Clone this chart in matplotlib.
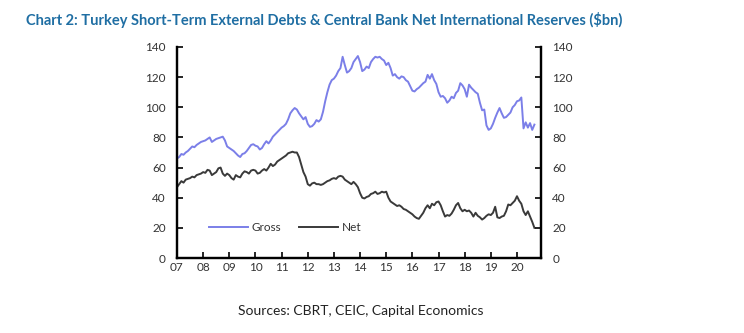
import matplotlib
matplotlib.use('Agg')
import numpy as np
import matplotlib.pyplot as plt

# monthly data, Jan 2007 - Sep 2020 ($bn)
start_year = 2007
gross = [
    66, 67, 69, 68.5, 70, 71, 72.5, 74, 73.5, 75, 76, 77,                   # 2007
    77.5, 78, 79, 80, 77, 78, 79, 79.5, 80, 80.5, 78, 74,                   # 2008
    73, 72, 71, 69.5, 68, 67, 69, 69.5, 71, 73, 75, 75.5,                   # 2009
    74.5, 74, 72, 73, 75.5, 77.5, 76, 78, 80.5, 82, 83.5, 85,               # 2010
    86.5, 87.5, 89, 92, 96, 98, 99.5, 98.5, 96, 94, 92, 93.5,               # 2011
    89, 87, 87.5, 89, 91.5, 90.5, 92, 97, 104, 110, 115, 118,               # 2012
    119, 121, 124, 126, 133.5, 128, 123, 124, 126, 130, 132, 134,           # 2013
    130, 124, 125, 127, 126, 130, 132, 133.5, 133, 133.5, 132, 131,         # 2014
    128, 129.5, 126, 121, 122, 120, 119, 120.5, 120, 118, 117, 114,         # 2015
    111, 110.5, 112, 113, 114.5, 116, 117, 121.5, 119, 122, 118, 115.5,     # 2016
    110, 107, 107.5, 106, 103, 104.5, 107, 106, 109.5, 111, 116, 114.5,     # 2017
    112, 107, 115, 113, 111.5, 110, 109, 103, 98, 98.5, 88, 85,             # 2018
    86, 89, 93, 96.5, 99.5, 96, 93, 93.5, 95, 96.5, 100, 101.5,             # 2019
    104, 104.5, 106.5, 86, 90, 86.5, 89.5, 85, 88.5,                        # 2020
]
net = [
    47, 49, 51, 50, 52, 52.5, 53, 54, 53.5, 55, 55.5, 56,
    57, 56.5, 58.5, 58, 55, 56, 57, 59.5, 60, 56, 54.5, 56,
    55, 53, 52, 55, 54, 53.5, 56, 57.5, 57, 56, 58, 58.5,
    58, 56, 56.5, 58, 59, 58, 60, 62.5, 61, 62, 64, 65,
    66, 67, 68, 69.5, 70, 70.5, 70, 70, 67, 62, 57, 54,
    49, 48, 49.5, 50, 49, 49, 48.5, 49, 50, 51, 51.5, 52.5,
    53, 52.5, 54, 54.5, 54, 52, 51, 50, 49, 50.5, 49, 47,
    43, 40, 39.5, 40.5, 41, 42.5, 43, 44, 42.5, 43, 44, 43.5,
    44, 40, 37.5, 36.5, 35.5, 34.5, 35, 34, 32.5, 32, 31, 30,
    29, 27.5, 26.5, 26, 28, 30, 33, 35, 33, 36, 35, 37,
    37.5, 35, 31, 27.5, 28.5, 28, 29.5, 32, 35, 36.5, 33, 31,
    32, 31, 31.5, 30, 27.5, 30, 28, 27, 25.5, 26.5, 28, 29,
    28.5, 30, 34, 27, 26.5, 27.5, 28, 31, 35.5, 35, 36.5, 38,
    41, 38, 36, 31, 28.5, 31, 27.5, 24, 20,
]
year_ticks = list(range(2007, 2021))
year_labels = ['%02d' % (y % 100) for y in year_ticks]
y_ticks = list(range(0, 141, 20))

plt.rcParams['font.family'] = ['Lato', 'DejaVu Sans']

t = start_year + np.arange(len(gross)) / 12.0

fig = plt.figure(figsize=(7.44, 3.33), dpi=100)
ax = fig.add_axes([0.2379, 0.2252, 0.4893, 0.6337])

ax.plot(t, gross, color='#7b7fe8', lw=1.4, label='Gross')
ax.plot(t, net, color='#3a3a3a', lw=1.4, label='Net')

ax.set_xlim(2007, 2020.92)
ax.set_ylim(0, 140)
ax.set_xticks(year_ticks)
ax.set_xticklabels(year_labels)
ax.set_yticks(y_ticks)

ax2 = ax.twinx()
ax2.set_ylim(0, 140)
ax2.set_yticks(y_ticks)

for a in (ax, ax2):
    a.spines['top'].set_visible(False)
    for s in ('left', 'right', 'bottom'):
        a.spines[s].set_linewidth(1.6)
    a.tick_params(direction='in', length=4, width=1.2, labelsize=8.5,
                  labelcolor='#333333')
ax.tick_params(axis='y', pad=8)
ax2.tick_params(axis='y', pad=8)
ax.tick_params(axis='x', pad=3)

ax.legend(loc='lower left', bbox_to_anchor=(0.06, 0.068), ncol=2, frameon=False,
          handlelength=3.3, columnspacing=1.5, handletextpad=0.3, fontsize=8.5,
          labelcolor='#333333')

fig.text(0.035, 0.94, 'Chart 2: Turkey Short-Term External Debts & Central Bank Net '
         'International Reserves ($bn)', color='#1f6ea3', fontsize=10.5,
         fontweight='bold', va='center', ha='left')
fig.text(0.485, 0.065, 'Sources: CBRT, CEIC, Capital Economics', color='#222222',
         fontsize=10, ha='center', va='center')

fig.savefig('out.png', dpi=100)
